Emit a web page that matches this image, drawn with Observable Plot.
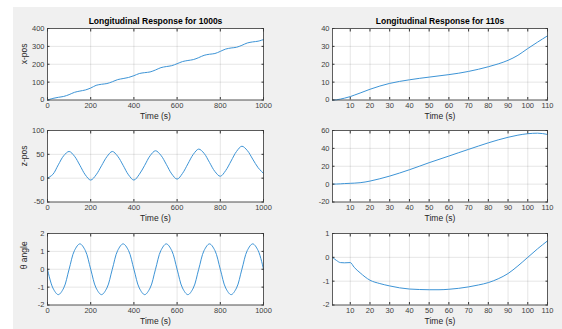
<!DOCTYPE html>
<html><head><meta charset="utf-8">
<script src="https://cdn.jsdelivr.net/npm/d3@7"></script>
<script src="https://cdn.jsdelivr.net/npm/@observablehq/plot@0.6"></script>
<style>
body{margin:0;background:#fff;}
#fig{position:relative;width:562px;height:329px;overflow:hidden;background:#fff;}
#bg{position:absolute;left:13px;top:7px;right:0;bottom:0;background:#f0f0f0;}
</style></head><body><div id="fig"><div id="bg"></div></div>
<script>
// ---- data ----
const tLong = [0,25,50,75,100,125,150,175,200,225,250,275,300,325,350,375,400,425,450,475,500,525,550,575,600,625,650,675,700,725,750,775,800,825,850,875,900,925,950,975,1000];
const xPosLong = [0,9,15,20,30,43,50,56,67,82,88,92,102,114,120,126,136,148,153,157,168,181,187,192,203,215,221,226,237,250,256,260,272,285,291,295,306,319,325,329,338];
const zPosLong = [0,8,28,47,56,46,27,7,-4,7,26,45,56,46,27,7,-4,8,27,47,57.5,48,29,9,-2,10,30,50,61,52,33,14,4,16,36,56,67,58,40,22,10];
const thetaLong = [0,-1.05,-1.42,-1.05,0,1.05,1.42,1.05,0,-1.05,-1.42,-1.05,0,1.05,1.42,1.05,0,-1.05,-1.42,-1.05,0,1.05,1.42,1.05,0,-1.05,-1.42,-1.05,0,1.05,1.42,1.05,0,-1.05,-1.42,-1.05,0,1.05,1.42,1.05,0];

const tShort = [1,3,5,7,10,12,15,20,25,30,35,40,45,50,55,60,65,70,75,80,85,90,95,100,105,110];
const xPosShort = [0,0.1,0.5,1.0,1.9,2.7,3.9,6,7.8,9.3,10.4,11.3,12.1,12.8,13.5,14.2,15,16,17.2,18.6,20.2,22.2,25,28.8,32.4,35.9];
const zPosShort = [0,0.1,0.3,0.6,0.9,1.1,1.6,3.4,6,9,12.4,16.1,20,24,27.7,31.4,35.2,38.9,42.6,46.2,49.5,52.4,54.8,56.4,57,55.6];
const thetaShort = [0,-0.13,-0.22,-0.23,-0.22,-0.42,-0.65,-0.96,-1.1,-1.2,-1.28,-1.33,-1.35,-1.36,-1.36,-1.34,-1.3,-1.24,-1.16,-1.06,-0.9,-0.68,-0.36,0,0.36,0.69];

const xTicksLong = [0,200,400,600,800,1000];
const xTicksShort = [10,20,30,40,50,60,70,80,90,100,110];
const yTicksXL = [0,100,200,300,400];
const yTicksZL = [-50,0,50,100];
const yTicksTL = [-2,-1,0,1,2];
const yTicksXS = [0,10,20,30,40];
const yTicksZS = [-20,0,20,40,60];
const yTicksTS = [-2,-1,0,1];

const titleLong = "Longitudinal Response for 1000s";
const titleShort = "Longitudinal Response for 110s";
const xLabel = "Time (s)";
const yLabels = ["x-pos", "z-pos", "θ angle"];

// ---- drawing ----
const FONT = "'Liberation Sans', Arial, Helvetica, sans-serif";
const fig = document.getElementById("fig");
const fmt = d => String(d);

function panel({t, v, xDomain, xTicks, yDomain, yTicks, left, top, fw, title, ylabel, curve}) {
  const data = t.map((d, i) => ({t: d, v: v[i]}));
  const mL = 40, mR = 12, mT = 20, mB = 26.5, fh = 71.5;
  const marks = [
    Plot.frame({fill: "#fff"}),
    Plot.gridX(xTicks, {stroke: "#000", strokeOpacity: 0.1}),
    Plot.gridY(yTicks, {stroke: "#000", strokeOpacity: 0.1}),
    Plot.line(data, {x: "t", y: "v", stroke: "#3d94d6", strokeWidth: 1, curve}),
    Plot.axisX(xTicks, {anchor: "bottom", tickSize: 0, tickPadding: 3, tickFormat: fmt, label: null}),
    Plot.axisY(yTicks, {anchor: "left", tickSize: 0, tickPadding: 3, tickFormat: fmt, label: null}),
    Plot.axisX(xTicks, {anchor: "bottom", tickSize: 2.5, dy: -2.5, tickFormat: () => "", label: null, stroke: "#333"}),
    Plot.axisX(xTicks, {anchor: "top", tickSize: 2.5, dy: 2.5, tickFormat: () => "", label: null, stroke: "#333"}),
    Plot.axisY(yTicks, {anchor: "left", tickSize: 2.5, dx: 2.5, tickFormat: () => "", label: null, stroke: "#333"}),
    Plot.axisY(yTicks, {anchor: "right", tickSize: 2.5, dx: -2.5, tickFormat: () => "", label: null, stroke: "#333"}),
    Plot.frame({stroke: "#3a3a3a", strokeWidth: 0.8}),
    Plot.text([xLabel], {frameAnchor: "bottom", lineAnchor: "middle", dy: 16, fontSize: 8.5, fill: "#262626"})
  ];
  if (title) marks.push(Plot.text([title], {frameAnchor: "top", lineAnchor: "middle", dy: -7, fontSize: 8.5, fontWeight: "bold", fill: "#000"}));
  if (ylabel) marks.push(Plot.text([ylabel], {frameAnchor: "left", lineAnchor: "middle", dx: -23, rotate: -90, fontSize: 8.5, fill: "#262626"}));
  const svg = Plot.plot({
    width: mL + fw + mR, height: mT + fh + mB,
    marginLeft: mL, marginRight: mR, marginTop: mT, marginBottom: mB,
    style: {background: "transparent", fontFamily: FONT, fontSize: "7.5px", color: "#404040", overflow: "visible"},
    x: {domain: xDomain, label: null},
    y: {domain: yDomain, label: null},
    marks
  });
  svg.style.position = "absolute";
  svg.style.left = (left - mL) + "px";
  svg.style.top = (top - mT) + "px";
  fig.appendChild(svg);
}

const L = 47, R = 332, tops = [27.5, 130, 232.5];
panel({t: tLong, v: xPosLong, xDomain: [0,1000], xTicks: xTicksLong, yDomain: [0,400], yTicks: yTicksXL, left: L, top: tops[0], fw: 216, title: titleLong, ylabel: yLabels[0], curve: "catmull-rom"});
panel({t: tLong, v: zPosLong, xDomain: [0,1000], xTicks: xTicksLong, yDomain: [-50,100], yTicks: yTicksZL, left: L, top: tops[1], fw: 216, ylabel: yLabels[1], curve: "catmull-rom"});
panel({t: tLong, v: thetaLong, xDomain: [0,1000], xTicks: xTicksLong, yDomain: [-2,2], yTicks: yTicksTL, left: L, top: tops[2], fw: 216, ylabel: yLabels[2], curve: "catmull-rom"});
panel({t: tShort, v: xPosShort, xDomain: [1,110], xTicks: xTicksShort, yDomain: [0,40], yTicks: yTicksXS, left: R, top: tops[0], fw: 215, title: titleShort, curve: "monotone-x"});
panel({t: tShort, v: zPosShort, xDomain: [1,110], xTicks: xTicksShort, yDomain: [-20,60], yTicks: yTicksZS, left: R, top: tops[1], fw: 215, curve: "monotone-x"});
panel({t: tShort, v: thetaShort, xDomain: [1,110], xTicks: xTicksShort, yDomain: [-2,1], yTicks: yTicksTS, left: R, top: tops[2], fw: 215, curve: "monotone-x"});
</script>
</body></html>
